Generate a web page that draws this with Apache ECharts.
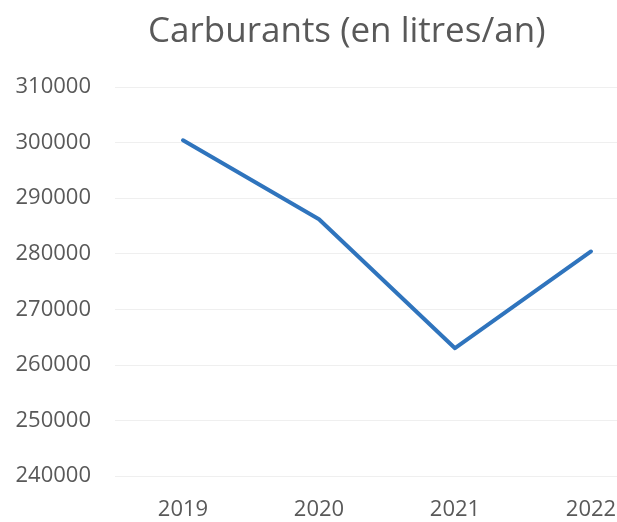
<!DOCTYPE html>
<html>
<head>
<meta charset="utf-8">
<script src="https://cdn.jsdelivr.net/npm/echarts@6/dist/echarts.min.js"></script>
<style>
  html, body { margin: 0; padding: 0; background: #fff; }
  #main { width: 617px; height: 522px; }
</style>
</head>
<body>
<div id="main"></div>
<script>
var years = ['2019', '2020', '2021', '2022'];
var litres = [300400, 286200, 263000, 280400];
var yTicks = { min: 240000, max: 310000, step: 10000 };

var chart = echarts.init(document.getElementById('main'));
var option = {
    backgroundColor: '#fff',
    title: {
        text: 'Carburants (en litres/an)',
        left: 143,
        top: 10,
        textStyle: {
            fontFamily: 'Open Sans',
            fontWeight: 'normal',
            fontSize: 35,
            color: '#595959'
        }
    },
    grid: {
        left: 115,
        top: 87,
        width: 544,
        height: 389,
        outerBoundsMode: 'none'
    },
    xAxis: {
        type: 'category',
        data: years,
        boundaryGap: true,
        axisLine: { show: false },
        axisTick: { show: false },
        axisLabel: {
            margin: 23,
            fontFamily: 'Open Sans',
            fontSize: 22,
            color: '#595959'
        }
    },
    yAxis: {
        type: 'value',
        min: yTicks.min,
        max: yTicks.max,
        interval: yTicks.step,
        axisLine: { show: false },
        axisTick: { show: false },
        axisLabel: {
            margin: 24,
            fontFamily: 'Open Sans',
            fontSize: 22,
            color: '#595959',
            formatter: function (v) { return String(v); }
        },
        splitLine: {
            lineStyle: { color: '#efefef', width: 1 }
        }
    },
    series: [{
        type: 'line',
        data: litres,
        symbol: 'none',
        lineStyle: { color: '#2f74bd', width: 4, cap: 'round', join: 'round' }
    }]
};
chart.setOption(option);
</script>
</body>
</html>
